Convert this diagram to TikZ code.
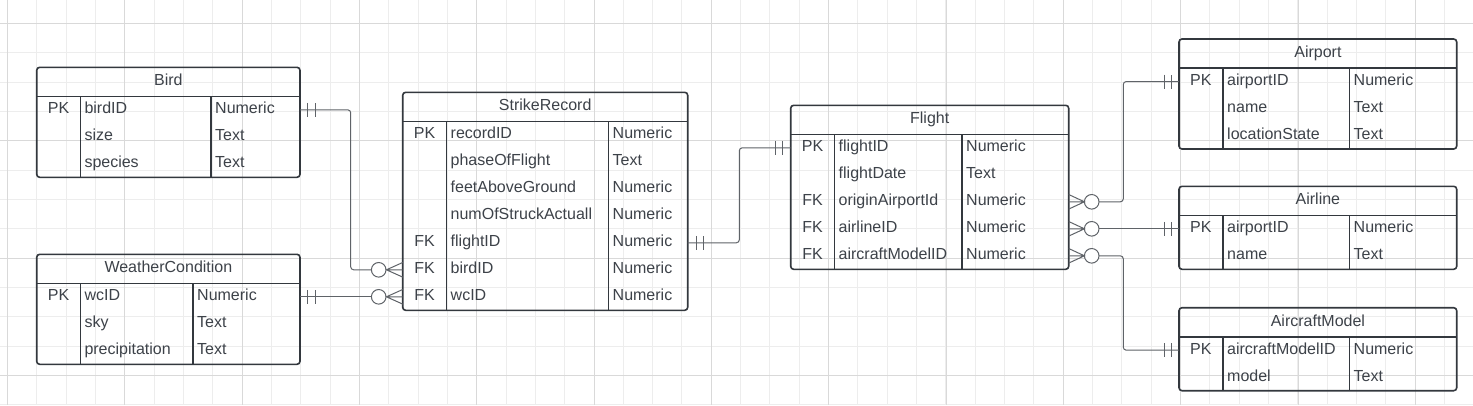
\documentclass[tikz,border=0pt]{standalone}
\usepackage{fontspec}
\setmainfont{Liberation Sans}
\definecolor{inkgrey}{HTML}{3D4249}
\definecolor{edgegrey}{HTML}{33383E}
\definecolor{wiregrey}{HTML}{5F6368}
\definecolor{gridminor}{HTML}{EDEDED}
\definecolor{gridmajor}{HTML}{D9D9D9}
\tikzset{
  erbox/.style={draw=edgegrey, line width=1.6pt, rounded corners=3pt, inner sep=0pt, outer sep=0pt, anchor=north west},
  errule/.style={draw=edgegrey, line width=1.6pt},
  ercell/.style={text=inkgrey, font=\fontsize{16}{19}\selectfont, inner sep=0pt, text height=11.5pt, text depth=3.4pt},
  erwire/.style={draw=wiregrey, line width=1pt},
}
\begin{document}
\begin{tikzpicture}[x=1pt, y=-1pt]
  % Canvas and grid
  \useasboundingbox[fill=white] (0,0) rectangle (1473,405);
  \foreach \i in {0,...,50} \draw[gridminor, line width=0.8pt] ({7.3+29.33*\i},0) -- ++(0,405);
  \foreach \i in {-1,...,13} \draw[gridminor, line width=0.8pt] (0,{23.3+29.33*\i}) -- ++(1473,0);
  \foreach \i in {0,...,12} \draw[gridmajor, line width=0.8pt] ({7.3+117.33*\i},0) -- ++(0,405);
  \foreach \i in {0,...,3} \draw[gridmajor, line width=0.8pt] (0,{23.3+117.33*\i}) -- ++(1473,0);

  % Bird
  \node[erbox, minimum width=263.3pt, minimum height=110pt] (bird) at (36.7,67.3) {};
  \node[ercell] at (168.4,81.8) {Bird};
  \draw[errule] (36.7,96.3) -- (300,96.3);
  \draw[errule] (80.3,96.3) -- (80.3,177.3) (210.7,96.3) -- (210.7,177.3);
  \foreach \k/\f/\t [count=\i] in {PK/birdID/Numeric,/size/Text,/species/Text} {
    \node[ercell] at (58.5,82.8+27*\i) {\k};
    \node[ercell, anchor=west] (bird-\i) at (84.3,82.8+27*\i) {\f};
    \node[ercell, anchor=west] at (215,82.8+27*\i) {\t};
  }

  % WeatherCondition
  \node[erbox, minimum width=263.3pt, minimum height=110pt] (wc) at (36.7,254.3) {};
  \node[ercell] at (168.4,268.8) {WeatherCondition};
  \draw[errule] (36.7,283.3) -- (300,283.3);
  \draw[errule] (80.3,283.3) -- (80.3,364.3) (192.7,283.3) -- (192.7,364.3);
  \foreach \k/\f/\t [count=\i] in {PK/wcID/Numeric,/sky/Text,/precipitation/Text} {
    \node[ercell] at (58.5,269.8+27*\i) {\k};
    \node[ercell, anchor=west] (wc-\i) at (84.3,269.8+27*\i) {\f};
    \node[ercell, anchor=west] at (197,269.8+27*\i) {\t};
  }

  % StrikeRecord
  \node[erbox, minimum width=285pt, minimum height=218pt] (strike) at (402.7,92.3) {};
  \node[ercell] at (545.2,106.8) {StrikeRecord};
  \draw[errule] (402.7,121.3) -- (687.7,121.3);
  \draw[errule] (446.3,121.3) -- (446.3,310.3) (608.3,121.3) -- (608.3,310.3);
  \foreach \k/\f/\t [count=\i] in {PK/recordID/Numeric,/phaseOfFlight/Text,/feetAboveGround/Numeric,
      /numOfStruckActuall/Numeric,FK/flightID/Numeric,FK/birdID/Numeric,FK/wcID/Numeric} {
    \node[ercell] at (424.5,107.8+27*\i) {\k};
    \node[ercell, anchor=west] (strike-\i) at (450.5,107.8+27*\i) {\f};
    \node[ercell, anchor=west] at (612.5,107.8+27*\i) {\t};
  }

  % Flight
  \node[erbox, minimum width=278pt, minimum height=164pt] (flight) at (790.7,105.3) {};
  \node[ercell] at (929.7,119.8) {Flight};
  \draw[errule] (790.7,134.3) -- (1068.7,134.3);
  \draw[errule] (834.3,134.3) -- (834.3,269.3) (961.7,134.3) -- (961.7,269.3);
  \foreach \k/\f/\t [count=\i] in {PK/flightID/Numeric,/flightDate/Text,FK/originAirportId/Numeric,
      FK/airlineID/Numeric,FK/aircraftModelID/Numeric} {
    \node[ercell] at (812.5,120.8+27*\i) {\k};
    \node[ercell, anchor=west] (flight-\i) at (838.5,120.8+27*\i) {\f};
    \node[ercell, anchor=west] at (966,120.8+27*\i) {\t};
  }

  % Airport
  \node[erbox, minimum width=277.7pt, minimum height=110pt] (airport) at (1179,39) {};
  \node[ercell] at (1317.9,53.5) {Airport};
  \draw[errule] (1179,68) -- (1456.7,68);
  \draw[errule] (1222.7,68) -- (1222.7,149) (1349.3,68) -- (1349.3,149);
  \foreach \k/\f/\t [count=\i] in {PK/airportID/Numeric,/name/Text,/locationState/Text} {
    \node[ercell] at (1200.9,54.5+27*\i) {\k};
    \node[ercell, anchor=west] (airport-\i) at (1227,54.5+27*\i) {\f};
    \node[ercell, anchor=west] at (1353.5,54.5+27*\i) {\t};
  }

  % Airline
  \node[erbox, minimum width=277.7pt, minimum height=83pt] (airline) at (1179,186.3) {};
  \node[ercell] at (1317.9,200.8) {Airline};
  \draw[errule] (1179,215.3) -- (1456.7,215.3);
  \draw[errule] (1222.7,215.3) -- (1222.7,269.3) (1349.3,215.3) -- (1349.3,269.3);
  \foreach \k/\f/\t [count=\i] in {PK/airportID/Numeric,/name/Text} {
    \node[ercell] at (1200.9,201.8+27*\i) {\k};
    \node[ercell, anchor=west] (airline-\i) at (1227,201.8+27*\i) {\f};
    \node[ercell, anchor=west] at (1353.5,201.8+27*\i) {\t};
  }

  % AircraftModel
  \node[erbox, minimum width=277.7pt, minimum height=83pt] (model) at (1179,307.7) {};
  \node[ercell] at (1317.9,322.2) {AircraftModel};
  \draw[errule] (1179,336.7) -- (1456.7,336.7);
  \draw[errule] (1222.7,336.7) -- (1222.7,390.7) (1349.3,336.7) -- (1349.3,390.7);
  \foreach \k/\f/\t [count=\i] in {PK/aircraftModelID/Numeric,/model/Text} {
    \node[ercell] at (1200.9,323.2+27*\i) {\k};
    \node[ercell, anchor=west] (model-\i) at (1227,323.2+27*\i) {\f};
    \node[ercell, anchor=west] at (1353.5,323.2+27*\i) {\t};
  }

  % Bird -- StrikeRecord, WeatherCondition -- StrikeRecord
  \draw[erwire, rounded corners=3pt] (bird.east |- bird-1) -| ([xshift=-52pt]strike.west |- strike-6)
    -- ([xshift=-31.3pt]strike.west |- strike-6);
  \draw[erwire] (wc.east |- wc-1) -- ([xshift=-31.3pt]strike.west |- strike-7);
  \draw[erwire] ([xshift=7pt]bird.east |- bird-1) ++(0,-7) -- ++(0,14) ++(8,0) -- ++(0,-14);
  \draw[erwire] ([xshift=7pt]wc.east |- wc-1) ++(0,-7) -- ++(0,14) ++(8,0) -- ++(0,-14);
  \foreach \r in {6,7} {
    \draw[erwire, fill=white] ([xshift=-24pt]strike.west |- strike-\r) circle[radius=7.3];
    \draw[erwire] (strike.west |- strike-\r) ++(0,-7.3) -- ++(-16.3,7.3) -- ++(16.3,7.3)
      ++(0,-7.3) -- ++(-16.3,0);
  }

  % StrikeRecord -- Flight
  \draw[erwire, rounded corners=3pt] (strike.east |- strike-5) -| ([xshift=-51.4pt]flight.west |- flight-1)
    -- (flight.west |- flight-1);
  \draw[erwire] ([xshift=8.3pt]strike.east |- strike-5) ++(0,-7) -- ++(0,14) ++(7,0) -- ++(0,-14);
  \draw[erwire] ([xshift=-15pt]flight.west |- flight-1) ++(0,-7) -- ++(0,14) ++(7,0) -- ++(0,-14);

  % Flight -- Airport, Airline, AircraftModel
  \draw[erwire, rounded corners=3pt] ([xshift=30.3pt]flight.east |- flight-3) -| ([xshift=-55.7pt]airport.west |- airport-1)
    -- (airport.west |- airport-1);
  \draw[erwire] ([xshift=30.3pt]flight.east |- flight-4) -- (airline.west |- airline-1);
  \draw[erwire, rounded corners=3pt] ([xshift=30.3pt]flight.east |- flight-5) -| ([xshift=-55.7pt]model.west |- model-1)
    -- (model.west |- model-1);
  \draw[erwire] ([xshift=-15pt]airport.west |- airport-1) ++(0,-7) -- ++(0,14) ++(7,0) -- ++(0,-14);
  \draw[erwire] ([xshift=-15pt]airline.west |- airline-1) ++(0,-7) -- ++(0,14) ++(7,0) -- ++(0,-14);
  \draw[erwire] ([xshift=-15pt]model.west |- model-1) ++(0,-7) -- ++(0,14) ++(7,0) -- ++(0,-14);
  \foreach \r in {3,4,5} {
    \draw[erwire, fill=white] ([xshift=23pt]flight.east |- flight-\r) circle[radius=7.3];
    \draw[erwire] (flight.east |- flight-\r) ++(0,-7.3) -- ++(15.7,7.3) -- ++(-15.7,7.3)
      ++(0,-7.3) -- ++(15.7,0);
  }
\end{tikzpicture}
\end{document}
